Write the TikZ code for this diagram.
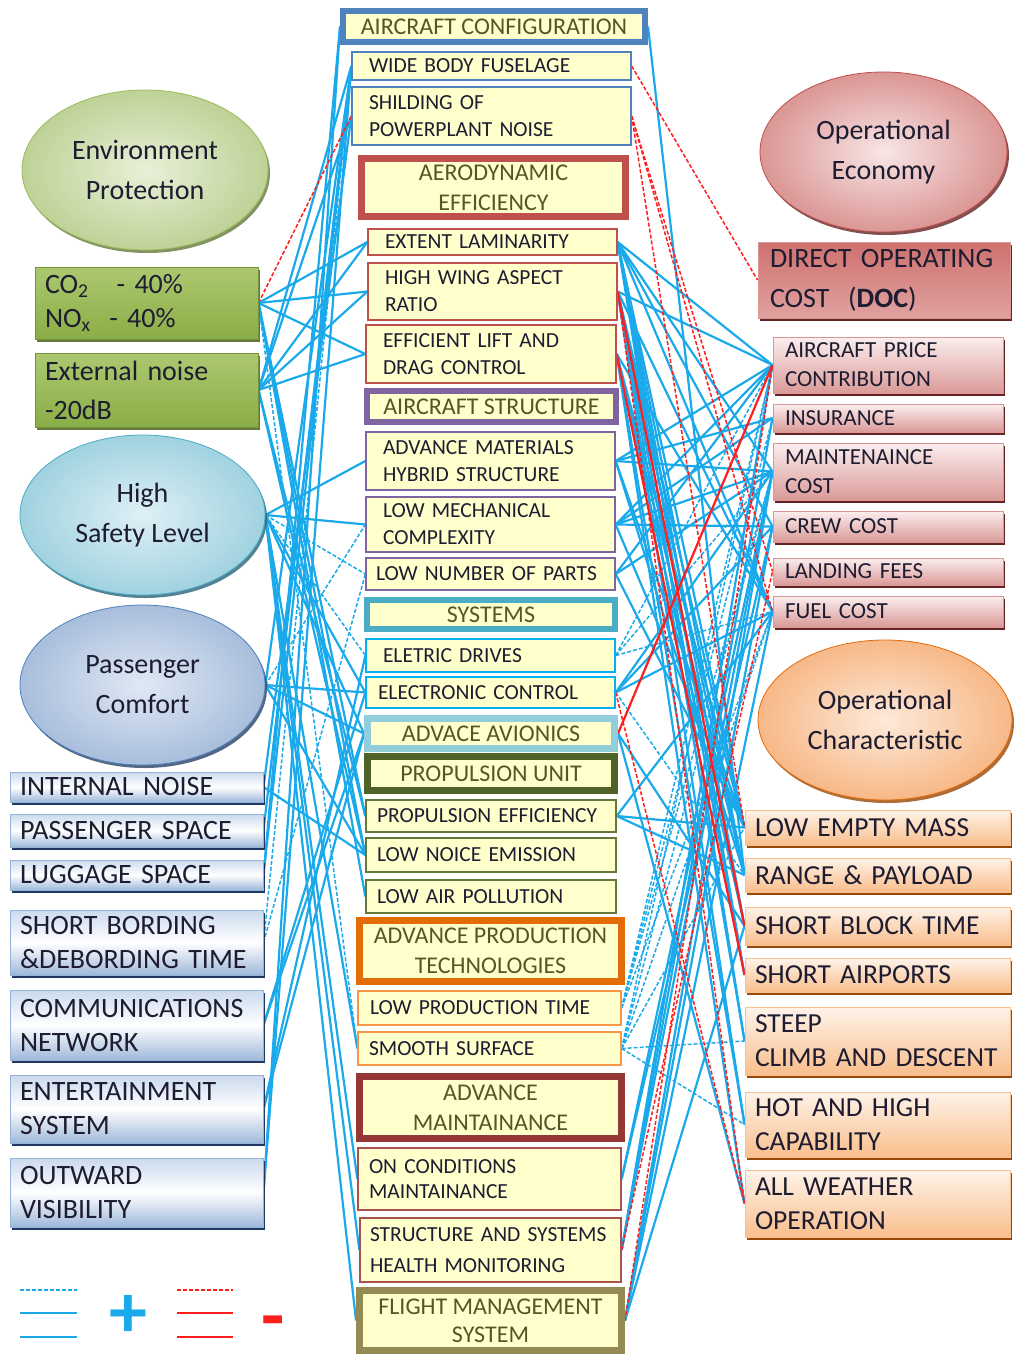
\documentclass[tikz,border=0pt]{standalone}
\usepackage{fontspec}
\setmainfont{Carlito}
\usetikzlibrary{shapes.geometric,shadows,backgrounds}

\definecolor{cream}{RGB}{255,255,204}
\definecolor{ink}{RGB}{30,28,48}
\definecolor{olivetxt}{RGB}{84,86,40}
\definecolor{lineblue}{RGB}{26,170,235}
\definecolor{linered}{RGB}{255,30,30}
\definecolor{cfgblue}{RGB}{79,129,189}
\definecolor{aerored}{RGB}{192,80,77}
\definecolor{strpurple}{RGB}{128,100,162}
\definecolor{systeal}{RGB}{75,172,198}
\definecolor{sysitem}{RGB}{0,176,240}
\definecolor{avilight}{RGB}{146,205,220}
\definecolor{propolive}{RGB}{79,98,40}
\definecolor{propitem}{RGB}{100,120,60}
\definecolor{prodorange}{RGB}{227,108,9}
\definecolor{proditem}{RGB}{247,150,70}
\definecolor{mntred}{RGB}{149,55,53}
\definecolor{mntitem}{RGB}{170,80,78}
\definecolor{fmsolive}{RGB}{148,138,84}
% left colours
\definecolor{envin}{RGB}{232,240,216}
\definecolor{envout}{RGB}{190,210,150}
\definecolor{envline}{RGB}{155,187,89}
\definecolor{envshadow}{RGB}{100,120,60}
\definecolor{greentop}{RGB}{172,200,112}
\definecolor{greenbot}{RGB}{138,174,70}
\definecolor{greenline}{RGB}{118,146,60}
\definecolor{safein}{RGB}{222,240,245}
\definecolor{safeout}{RGB}{160,210,224}
\definecolor{safeshadow}{RGB}{40,100,118}
\definecolor{pcin}{RGB}{224,232,244}
\definecolor{pcout}{RGB}{168,190,220}
\definecolor{pcshadow}{RGB}{40,66,100}
\definecolor{ptop}{RGB}{202,218,238}
\definecolor{pbot}{RGB}{158,184,218}
\definecolor{pline}{RGB}{149,179,215}
\definecolor{pshadow}{RGB}{31,56,100}
% right colours
\definecolor{ecoin}{RGB}{249,230,230}
\definecolor{ecoout}{RGB}{218,150,148}
\definecolor{redshadow}{RGB}{99,37,35}
\definecolor{doctop}{RGB}{206,112,110}
\definecolor{docbot}{RGB}{224,162,160}
\definecolor{costtop}{RGB}{251,238,238}
\definecolor{costbot}{RGB}{218,154,152}
\definecolor{costline}{RGB}{217,150,148}
\definecolor{chin}{RGB}{253,234,218}
\definecolor{chout}{RGB}{247,184,135}
\definecolor{chline}{RGB}{228,108,10}
\definecolor{brownshadow}{RGB}{152,72,7}
\definecolor{chtop}{RGB}{254,243,233}
\definecolor{chbot}{RGB}{249,190,140}
\definecolor{chbox}{RGB}{250,192,144}

\tikzset{
  headbox/.style={draw=#1, line width=6pt, fill=cream, text=olivetxt, align=center,
    inner sep=0pt, font=\fontsize{24}{30}\selectfont},
  itembox/.style={draw=#1, line width=1.3pt, fill=cream, text=ink, align=left,
    inner xsep=17pt, inner ysep=0pt, font=\fontsize{21.5}{27}\selectfont},
  goalell/.style={ellipse, inner sep=0pt, text=ink, align=center, line width=0.8pt,
    font=\fontsize{28}{40}\selectfont},
  envbox/.style={draw=greenline, line width=1pt, top color=greentop, bottom color=greenbot,
    text=ink, align=left, inner xsep=10pt, inner ysep=0pt, text width=203pt,
    minimum width=223pt, font=\fontsize{28}{34}\selectfont,
    drop shadow={shadow xshift=2pt, shadow yshift=-3pt, fill=envshadow, opacity=1}},
  leftbox/.style={draw=pline, line width=1pt, top color=ptop, bottom color=pbot, middle color=white,
    text=ink, align=left, inner xsep=10pt, inner ysep=0pt, text width=233pt,
    font=\fontsize{28}{34}\selectfont,
    drop shadow={shadow xshift=2pt, shadow yshift=-3pt, fill=pshadow, opacity=1}},
  costbox/.style={draw=costline, line width=1pt, top color=costtop, bottom color=costbot,
    text=ink, align=left, inner xsep=12pt, inner ysep=0pt, text width=206pt,
    font=\fontsize{23}{29}\selectfont,
    drop shadow={shadow xshift=2pt, shadow yshift=-3pt, fill=redshadow, opacity=1}},
  charbox/.style={draw=chbox, line width=1pt, top color=chtop, bottom color=chbot,
    text=ink, align=left, inner xsep=10pt, inner ysep=0pt, text width=245pt,
    font=\fontsize{27.5}{34}\selectfont,
    drop shadow={shadow xshift=2pt, shadow yshift=-3pt, fill=brownshadow, opacity=1}},
  lnplus/.style={lineblue, line width=2.2pt},
  lnplusdash/.style={lineblue, line width=1.5pt, dash pattern=on 4pt off 2pt},
  lnminus/.style={linered, line width=2.2pt},
  lnminusdash/.style={linered, line width=1.5pt, dash pattern=on 4pt off 2pt},
}

\begin{document}
\begin{tikzpicture}[x=1pt,y=-1pt]
\useasboundingbox (0,0) rectangle (1014,1354);

%goals on the left
\node[goalell, minimum width=246pt, minimum height=160pt, draw=envline, inner color=envin, outer color=envout,
  drop shadow={shadow xshift=2pt, shadow yshift=-3pt, fill=envshadow, opacity=.8}] (envp) at (145,170) {Environment\\Protection};
\node[envbox, minimum height=72pt] (co2) at (146.5,303) {CO\textsubscript{2}\ \ \ - 40\%\\NO\textsubscript{x}\ \ - 40\%};
\node[envbox, minimum height=74pt, font=\fontsize{28}{39}\selectfont] (extn) at (146.5,390) {External noise\\-20dB};
\node[goalell, minimum width=245pt, minimum height=160pt, draw=systeal, inner color=safein, outer color=safeout,
  drop shadow={shadow xshift=2pt, shadow yshift=-3pt, fill=safeshadow, opacity=.8}] (safe) at (142.5,515) {High\\Safety Level};
\node[goalell, minimum width=245pt, minimum height=160pt, draw=cfgblue, inner color=pcin, outer color=pcout,
  drop shadow={shadow xshift=2pt, shadow yshift=-3pt, fill=pcshadow, opacity=.8}] (pcom) at (142.5,685) {Passenger\\Comfort};

%passenger items
\node[leftbox, minimum height=30pt] (inoise) at (136.5,787) {INTERNAL NOISE};
\node[leftbox, minimum height=33pt] (pspace) at (136.5,830.5) {PASSENGER SPACE};
\node[leftbox, minimum height=30pt] (lspace) at (136.5,875) {LUGGAGE SPACE};
\node[leftbox, minimum height=65pt] (bord) at (136.5,942.5) {SHORT BORDING\\\&DEBORDING TIME};
\node[leftbox, minimum height=70pt] (comm) at (136.5,1025) {COMMUNICATIONS\\NETWORK};
\node[leftbox, minimum height=68pt] (ent) at (136.5,1109) {ENTERTAINMENT\\SYSTEM};
\node[leftbox, minimum height=69pt] (outv) at (136.5,1192.5) {OUTWARD\\VISIBILITY};

%aircraft configuration
\node[headbox=cfgblue, minimum width=302pt, minimum height=31pt] (acfg) at (494,26.5) {AIRCRAFT CONFIGURATION};
\node[itembox=cfgblue, text width=245pt, minimum height=28pt] (wbf) at (491.5,66) {WIDE BODY FUSELAGE};
\node[itembox=cfgblue, text width=245pt, minimum height=58pt] (shd) at (491.5,116) {SHILDING OF\\POWERPLANT NOISE};

%aerodynamic efficiency
\node[headbox=aerored, line width=7pt, minimum width=264pt, minimum height=58pt] (aero) at (493.5,187.5) {AERODYNAMIC\\EFFICIENCY};
\node[itembox=aerored, text width=215pt, minimum height=26pt] (ext) at (492.5,242) {EXTENT LAMINARITY};
\node[itembox=aerored, text width=215pt, minimum height=57pt] (hwa) at (492.5,291.5) {HIGH WING ASPECT\\RATIO};
\node[itembox=aerored, text width=216pt, minimum height=58pt] (elc) at (491,354) {EFFICIENT LIFT AND\\DRAG CONTROL};

%aircraft structure
\node[headbox=strpurple, minimum width=249pt, minimum height=31pt] (astr) at (491.5,406.5) {AIRCRAFT STRUCTURE};
\node[itembox=strpurple, text width=215pt, minimum height=58pt] (amh) at (490.5,461) {ADVANCE MATERIALS\\HYBRID STRUCTURE};
\node[itembox=strpurple, text width=215pt, minimum height=55pt] (lmc) at (490.5,524.5) {LOW MECHANICAL\\COMPLEXITY};
\node[itembox=strpurple, inner xsep=10pt, text width=229pt, minimum height=32pt] (lnp) at (490.5,574) {LOW NUMBER OF PARTS};

%systems
\node[headbox=systeal, minimum width=248pt, minimum height=29pt] (sys) at (491,614.5) {SYSTEMS};
\node[itembox=sysitem, text width=215pt, minimum height=33pt] (edr) at (490.5,655.5) {ELETRIC DRIVES};
\node[itembox=sysitem, inner xsep=12pt, text width=225pt, minimum height=31pt] (eco) at (490.5,692.5) {ELECTRONIC CONTROL};
\node[headbox=avilight, line width=7pt, minimum width=247pt, minimum height=30pt] (ava) at (491,733.5) {ADVACE AVIONICS};

%propulsion unit
\node[headbox=propolive, line width=7pt, minimum width=247pt, minimum height=34pt] (prop) at (491,773.5) {PROPULSION UNIT};
\node[itembox=propitem, inner xsep=11pt, text width=228pt, minimum height=32pt] (pef) at (491,816) {PROPULSION EFFICIENCY};
\node[itembox=propitem, inner xsep=11pt, text width=228pt, minimum height=34pt] (lne) at (491,855) {LOW NOICE EMISSION};
\node[itembox=propitem, inner xsep=11pt, text width=228pt, minimum height=33pt] (lap) at (491,896.5) {LOW AIR POLLUTION};

%production
\node[headbox=prodorange, line width=7pt, minimum width=262pt, minimum height=61pt] (apt) at (490.5,951) {ADVANCE PRODUCTION\\TECHNOLOGIES};
\node[itembox=proditem, inner xsep=12pt, text width=239pt, minimum height=34pt] (lpt) at (489.5,1008) {LOW PRODUCTION TIME};
\node[itembox=proditem, inner xsep=11pt, text width=241pt, minimum height=33pt] (ssf) at (489.5,1048.5) {SMOOTH SURFACE};

%maintainance
\node[headbox=mntred, line width=7pt, minimum width=262pt, minimum height=62pt] (amt) at (490.5,1107.5) {ADVANCE\\MAINTAINANCE};
\node[itembox=mntitem, inner xsep=11pt, text width=241pt, minimum height=62pt, font=\fontsize{21.5}{25}\selectfont] (ocm) at (489.5,1179) {ON CONDITIONS\\MAINTAINANCE};
\node[itembox=mntitem, inner xsep=10pt, text width=241pt, minimum height=64pt, font=\fontsize{21.5}{31}\selectfont] (shm) at (490.5,1250) {STRUCTURE AND SYSTEMS\\HEALTH MONITORING};
\node[headbox=fmsolive, line width=7pt, minimum width=262pt, minimum height=60pt, font=\fontsize{24}{28}\selectfont] (fms) at (490.5,1320.5) {FLIGHT MANAGEMENT\\SYSTEM};

%operational economy
\node[goalell, minimum width=247pt, minimum height=160pt, draw=aerored, inner color=ecoin, outer color=ecoout,
  drop shadow={shadow xshift=2pt, shadow yshift=-3pt, fill=redshadow, opacity=.8}] (opec) at (883.5,152) {Operational\\Economy};
\node[draw=costline, line width=1pt, top color=doctop, middle color=aerored, bottom color=docbot, text=ink,
  align=left, inner xsep=12pt, inner ysep=0pt, text width=228pt, minimum height=76pt,
  font=\fontsize{28}{40}\selectfont,
  drop shadow={shadow xshift=2pt, shadow yshift=-3pt, fill=redshadow, opacity=1}] (doc) at (884,280) {DIRECT OPERATING\\COST\ \ (\textbf{DOC})};
\node[costbox, minimum height=56pt] (apc) at (888,365) {AIRCRAFT PRICE\\CONTRIBUTION};
\node[costbox, minimum height=28pt] (ins) at (888,418) {INSURANCE};
\node[costbox, minimum height=57pt] (mnt) at (888,471.5) {MAINTENAINCE\\COST};
\node[costbox, minimum height=31pt] (crew) at (888,526.5) {CREW COST};
\node[costbox, minimum height=27pt] (land) at (888,571.5) {LANDING FEES};
\node[costbox, minimum height=31pt] (fuel) at (888,611.5) {FUEL COST};

%operational characteristic
\node[goalell, minimum width=254pt, minimum height=160pt, draw=chline, inner color=chin, outer color=chout,
  drop shadow={shadow xshift=2pt, shadow yshift=-3pt, fill=brownshadow, opacity=.8}] (opch) at (885,720) {Operational\\Characteristic};
\node[charbox, minimum height=35pt] (lem) at (877.5,827.5) {LOW EMPTY MASS};
\node[charbox, minimum height=34pt] (rpl) at (877.5,875) {RANGE \& PAYLOAD};
\node[charbox, minimum height=38pt] (sbt) at (877.5,926) {SHORT BLOCK TIME};
\node[charbox, minimum height=34pt] (sap) at (877.5,975) {SHORT AIRPORTS};
\node[charbox, minimum height=68pt] (scd) at (877.5,1041) {STEEP\\CLIMB AND DESCENT};
\node[charbox, minimum height=65pt] (hah) at (877.5,1124.5) {HOT AND HIGH\\CAPABILITY};
\node[charbox, minimum height=67pt] (awo) at (877.5,1203.5) {ALL WEATHER\\OPERATION};

\begin{scope}[on background layer]
%left links
\foreach \a/\b in {co2/ext,co2/hwa,co2/elc,co2/pef,co2/lap,co2/lne,extn/ext,extn/hwa,extn/elc,extn/shd,
    extn/lne,extn/pef,extn/wbf,safe/lmc,safe/amh,safe/eco,safe/ava,safe/ocm,safe/shm,safe/fms,safe/ssf,
    pcom/wbf,pcom/lne,pcom/ava,pcom/eco,inoise/lne,inoise/shd,pspace/wbf,lspace/wbf,lspace/acfg,
    comm/ava,comm/eco,ent/ava,ent/edr,outv/wbf,outv/acfg}
  \draw[lnplus] (\a.east) -- (\b.west);
\foreach \a/\b in {safe/edr,bord/wbf,bord/lnp,pcom/lmc,co2/ssf,safe/lnp}
  \draw[lnplusdash] (\a.east) -- (\b.west);
\draw[lnminusdash] (co2.east) -- (shd.west);

%right links
\foreach \a/\b in {acfg/rpl,ext/apc,ext/mnt,ext/fuel,ext/lem,ext/rpl,ext/sbt,ext/crew,ext/sap,ext/scd,
    hwa/apc,hwa/fuel,hwa/lem,hwa/rpl,hwa/sap,hwa/scd,hwa/hah,elc/fuel,elc/rpl,elc/lem,elc/sbt,elc/awo,
    elc/hah,amh/apc,amh/mnt,amh/lem,amh/ins,amh/rpl,lmc/apc,lmc/mnt,lmc/crew,lmc/ins,lmc/lem,lnp/apc,
    lnp/mnt,lnp/lem,eco/fuel,eco/mnt,eco/crew,ava/sbt,ava/awo,pef/fuel,pef/rpl,pef/lem,ocm/mnt,
    ocm/crew,shm/mnt,shm/ins,shm/apc,fms/fuel,fms/sbt,fms/crew,fms/mnt}
  \draw[lnplus] (\a.east) -- (\b.west);
\foreach \a/\b in {edr/apc,edr/fuel,edr/mnt,lpt/apc,lpt/mnt,lpt/ins,lpt/fuel,ssf/scd,ssf/hah,ssf/fuel,
    ssf/lem,ssf/apc,ssf/mnt,eco/rpl}
  \draw[lnplusdash] (\a.east) -- (\b.west);
\foreach \a/\b in {hwa/sbt,elc/sap,ava/apc}
  \draw[lnminus] (\a.east) -- (\b.west);
\foreach \a/\b in {wbf/doc,shd/land,shd/fuel,shd/lem,eco/awo,fms/apc,shm/land,hwa/awo}
  \draw[lnminusdash] (\a.east) -- (\b.west);
\end{scope}

%legend
\draw[lnplusdash] (20,1290) -- (77,1290);
\draw[lnplus] (20,1313) -- (77,1313);
\draw[lnplus] (20,1337) -- (77,1337);
\node[text=lineblue, font=\fontsize{76}{76}\selectfont\bfseries] (plus) at (128,1316) {+};
\draw[lnminusdash] (177,1290) -- (233,1290);
\draw[lnminus] (177,1313) -- (233,1313);
\draw[lnminus] (177,1337) -- (233,1337);
\node[text=linered, font=\fontsize{76}{76}\selectfont\bfseries, text height=40pt, text depth=10pt,
  inner sep=2pt] (minus) at (273,1326) {-};
\end{tikzpicture}
\end{document}
